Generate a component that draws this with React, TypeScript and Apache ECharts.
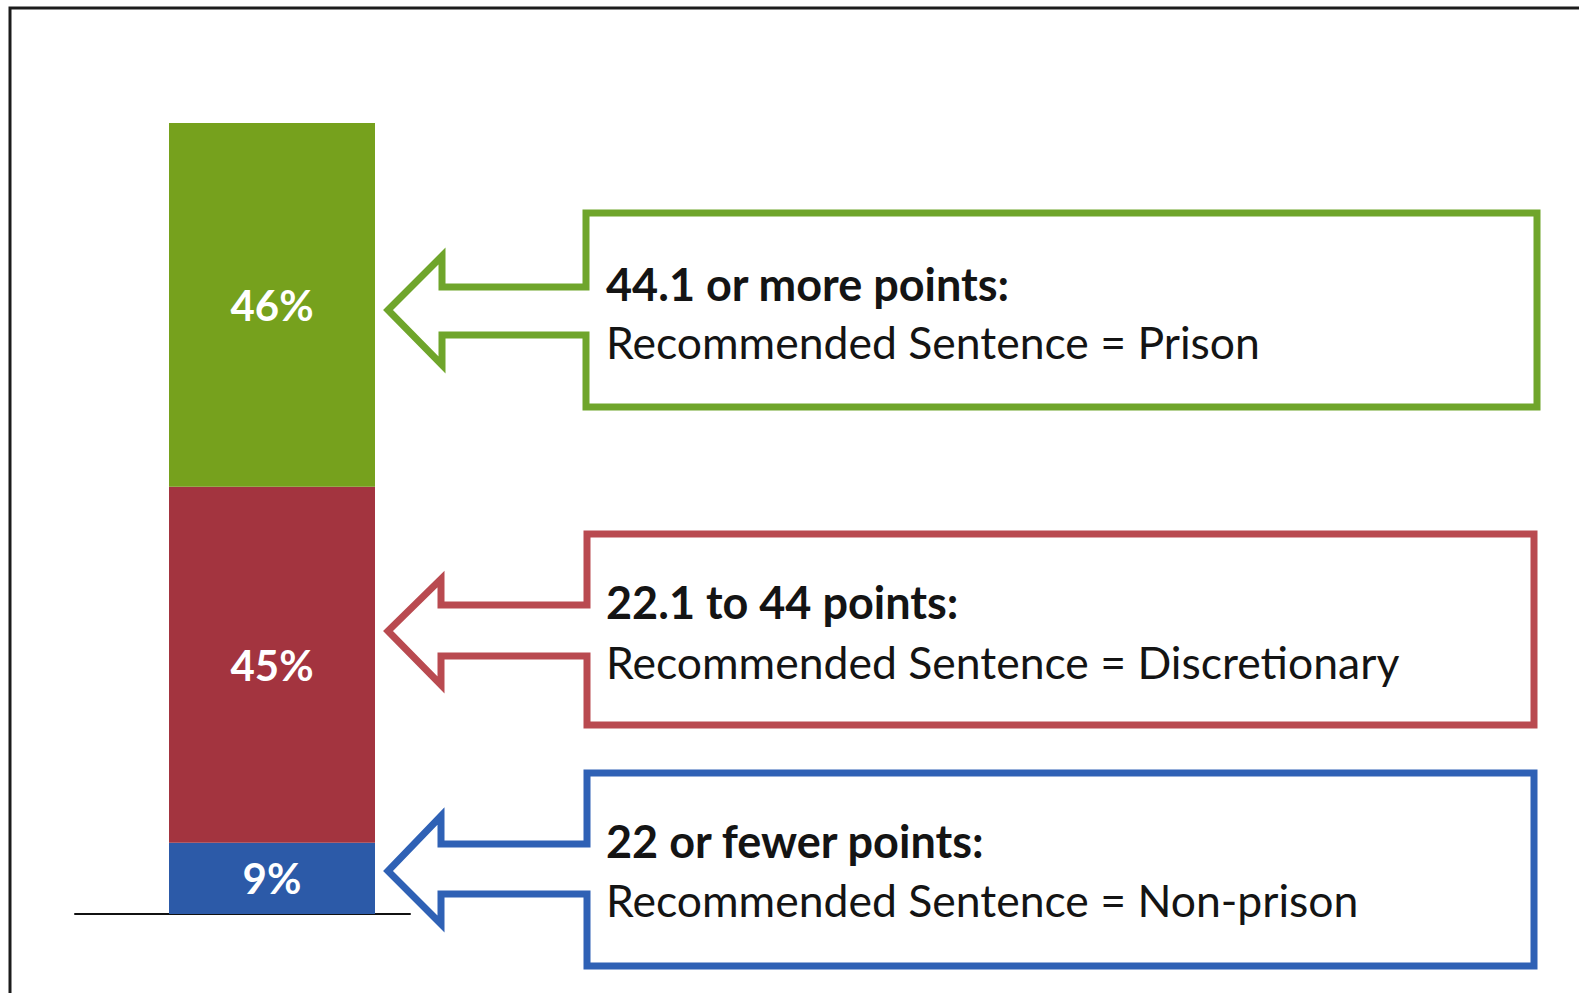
import React, { useEffect, useRef } from "react";
import * as echarts from "echarts";

// ---- data ----
const categories = ["Recommended sentence"];
const segments = ["22 or fewer points", "22.1 to 44 points", "44.1 or more points"];
const shares = [9, 45, 46];
const headings = ["22 or fewer points:", "22.1 to 44 points:", "44.1 or more points:"];
const outcomes = [
  "Recommended Sentence = Non-prison",
  "Recommended Sentence = Discretionary",
  "Recommended Sentence = Prison",
];
const barColors = ["#2c5aa8", "#a3343f", "#76a11d"];
const lineColors = ["#2f61b5", "#b94a50", "#6fa52b"];

// callout geometry (box + hollow arrow), same order as segments
const callouts = [
  { L: 587, T: 773, R: 1534, B: 966, tipX: 388, tipY: 871, headX: 441, headT: 816, headB: 924, shaftT: 844, shaftB: 894, t1: 841, t2: 899 },
  { L: 587, T: 534, R: 1534, B: 725, tipX: 388, tipY: 631, headX: 441, headT: 579, headB: 685, shaftT: 605, shaftB: 656, t1: 602, t2: 661 },
  { L: 586, T: 213, R: 1537, B: 407, tipX: 388, tipY: 310, headX: 442, headT: 256, headB: 365, shaftT: 287, shaftB: 335, t1: 284, t2: 341 },
];

const FONT = "Lato, 'Open Sans', sans-serif";

export default function App() {
  const ref = useRef<HTMLDivElement>(null);
  useEffect(() => {
    if (!ref.current) return;
    const chart = echarts.init(ref.current, null, { renderer: "svg" });

    const graphics: any[] = [
      {
        type: "polyline",
        shape: { points: [[10, 993], [10, 8], [1579, 8]] },
        style: { stroke: "#1c1c1c", lineWidth: 3, fill: null },
        silent: true,
      },
    ];
    callouts.forEach((c, i) => {
      graphics.push({
        type: "polygon",
        shape: {
          points: [
            [c.L, c.T],
            [c.R, c.T],
            [c.R, c.B],
            [c.L, c.B],
            [c.L, c.shaftB],
            [c.headX, c.shaftB],
            [c.headX, c.headB],
            [c.tipX, c.tipY],
            [c.headX, c.headT],
            [c.headX, c.shaftT],
            [c.L, c.shaftT],
          ],
        },
        style: { stroke: lineColors[i], lineWidth: 7, fill: "#ffffff", lineJoin: "miter" },
        silent: true,
      });
      graphics.push({
        type: "text",
        x: 606,
        y: c.t1,
        style: {
          text: headings[i],
          font: `bold 45px ${FONT}`,
          fill: "#141414",
          verticalAlign: "middle",
        },
        silent: true,
      });
      graphics.push({
        type: "text",
        x: 606,
        y: c.t2,
        style: {
          text: outcomes[i],
          font: `44.5px ${FONT}`,
          fill: "#141414",
          verticalAlign: "middle",
        },
        silent: true,
      });
    });

    chart.setOption({
      animation: false,
      backgroundColor: "#ffffff",
      grid: [
        { left: 75, width: 335, top: 123, bottom: 79 },
        { left: 169, width: 206, top: 123, bottom: 79 },
      ],
      xAxis: [
        {
          gridIndex: 0,
          type: "category",
          data: [""],
          axisLine: { show: true, lineStyle: { color: "#111", width: 2 } },
          axisTick: { show: false },
          axisLabel: { show: false },
          splitLine: { show: false },
        },
        {
          gridIndex: 1,
          type: "category",
          data: categories,
          axisLine: { show: false },
          axisTick: { show: false },
          axisLabel: { show: false },
          splitLine: { show: false },
        },
      ],
      yAxis: [
        { gridIndex: 0, type: "value", min: 0, max: 100, show: false, splitLine: { show: false } },
        { gridIndex: 1, type: "value", min: 0, max: 100, show: false, splitLine: { show: false } },
      ],
      series: segments.map((name, i) => ({
        name,
        type: "bar",
        xAxisIndex: 1,
        yAxisIndex: 1,
        stack: "total",
        barWidth: "100%",
        data: [shares[i]],
        itemStyle: { color: barColors[i] },
        label: {
          show: true,
          position: "inside",
          formatter: "{c}%",
          color: "#ffffff",
          fontFamily: FONT,
          fontWeight: "bold",
          fontSize: 42,
        },
      })),
      graphic: graphics,
    });
    return () => chart.dispose();
  }, []);
  return (
    <div
      ref={ref}
      style={{ position: "fixed", left: 0, top: 0, width: 1579, height: 993 }}
    />
  );
}
